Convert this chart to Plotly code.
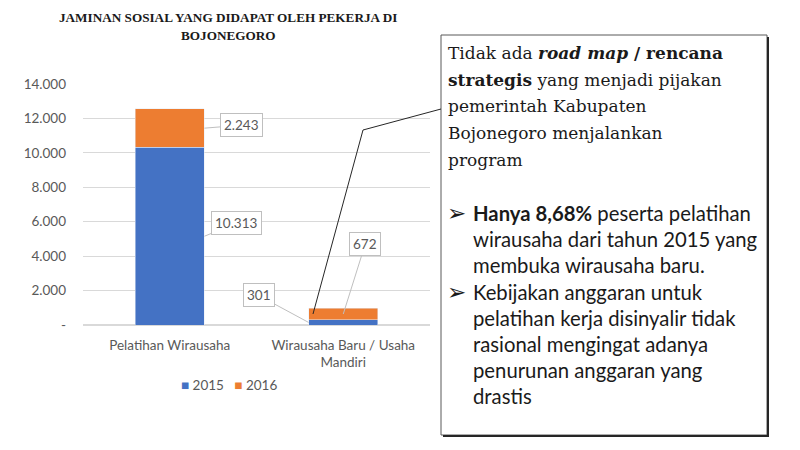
import plotly.graph_objects as go

# data
categories = ["Pelatihan Wirausaha", "Wirausaha Baru / Usaha<br>Mandiri"]
years = ["2015", "2016"]
values_2015 = [10313, 301]
values_2016 = [2243, 672]
colors = ["#4472C4", "#ED7D31"]

y_ticks = [0, 2000, 4000, 6000, 8000, 10000, 12000, 14000]
y_tick_text = ["-", "2.000", "4.000", "6.000", "8.000", "10.000", "12.000", "14.000"]

title_lines = ["JAMINAN SOSIAL YANG DIDAPAT OLEH PEKERJA DI", "BOJONEGORO"]

note_lines = [
    "Tidak ada <b><i>road map</i> / rencana</b>",
    "<b>strategis</b> yang menjadi pijakan",
    "pemerintah Kabupaten",
    "Bojonegoro menjalankan",
    "program",
]
bullet_lines = [
    ("➢", "<b>Hanya 8,68%</b> peserta pelatihan"),
    ("", "wirausaha dari tahun 2015 yang"),
    ("", "membuka wirausaha baru."),
    ("➢", "Kebijakan anggaran untuk"),
    ("", "pelatihan kerja disinyalir tidak"),
    ("", "rasional mengingat adanya"),
    ("", "penurunan anggaran yang"),
    ("", "drastis"),
]

# page has an 8px body margin, so the figure starts at (8, 8) on screen
OFF = 8
# plot area in screen pixels
L, R, T, B = 83, 430, 84, 325


def px(x):
    return (x - L) / (R - L)


def py(y):
    return (B - y) / (B - T)


def fmt(v):
    return f"{v:,}".replace(",", ".")


fig = go.Figure()
fig.add_trace(go.Bar(x=[0, 1], y=values_2015, name=years[0], marker_color=colors[0]))
fig.add_trace(go.Bar(x=[0, 1], y=values_2016, name=years[1], marker_color=colors[1]))

# data label callouts (point on the segment middle, box offset in pixels)
label_offsets = {
    (0, 0): (0.2, 32, -13),
    (0, 1): (0.2, 37, -3),
    (1, 0): (-0.2, -50, -27),
    (1, 1): (0.0, 22, -70),
}
for i in range(len(categories)):
    base = 0
    for s, vals in enumerate([values_2015, values_2016]):
        dx, ax, ay = label_offsets[(i, s)]
        fig.add_annotation(
            x=i + dx, y=base + vals[i] / 2, xref="x", yref="y",
            text=fmt(vals[i]), showarrow=True, arrowhead=0, arrowwidth=1,
            arrowcolor="#BFBFBF", ax=ax, ay=ay, axref="pixel", ayref="pixel",
            bgcolor="white", bordercolor="#BFBFBF", borderwidth=1, borderpad=3,
            font=dict(family="Lato, sans-serif", size=13.5, color="#595959"),
        )
        base += vals[i]

# legend drawn as text so it stays compact like the original
legend_text = "   ".join(
    f"<span style='color:{c}'>■</span> {y}" for c, y in zip(colors, years)
)
fig.add_annotation(
    x=px(229), y=py(385), xref="paper", yref="paper", text=legend_text,
    showarrow=False, xanchor="center", yanchor="middle",
    font=dict(family="Lato, sans-serif", size=13.5, color="#595959"),
)

# title
for k, line in enumerate(title_lines):
    fig.add_annotation(
        x=px(228), y=py(17 + k * 18), xref="paper", yref="paper",
        text="<b>" + line + "</b>", showarrow=False, xanchor="center", yanchor="middle",
        font=dict(family="Liberation Serif, serif", size=13.2, color="#1A1A1A"),
    )

# text box on the right
fig.add_shape(type="rect", xref="paper", yref="paper",
              x0=px(441), x1=px(767), y0=py(435), y1=py(35),
              line=dict(color="#595959", width=1), fillcolor="white", layer="above")
fig.add_shape(type="path", xref="paper", yref="paper",
              path=f"M {px(443)},{py(436)} L {px(768)},{py(436)} L {px(768)},{py(37)}",
              line=dict(color="#262626", width=2), layer="above")
# leader line from the text box to the small bar
fig.add_shape(type="path", xref="paper", yref="paper",
              path=f"M {px(441)},{py(109)} L {px(363)},{py(130)} L {px(313)},{py(314)}",
              line=dict(color="#262626", width=1), layer="above")

for k, line in enumerate(note_lines):
    fig.add_annotation(
        x=px(446), y=py(53 + k * 26.7), xref="paper", yref="paper",
        text=line, showarrow=False, xanchor="left", yanchor="middle",
        font=dict(family="DejaVu Serif, serif", size=17, color="#1A1A1A"),
    )
for k, (bullet, line) in enumerate(bullet_lines):
    y = py(213 + k * 26.2)
    if bullet:
        fig.add_annotation(
            x=px(445), y=y, xref="paper", yref="paper", text=bullet, showarrow=False,
            xanchor="left", yanchor="middle",
            font=dict(family="DejaVu Sans, sans-serif", size=23, color="#1A1A1A"),
        )
    fig.add_annotation(
        x=px(471), y=y, xref="paper", yref="paper", text=line, showarrow=False,
        xanchor="left", yanchor="middle",
        font=dict(family="Lato, sans-serif", size=20.3, color="#1A1A1A"),
    )

fig.update_layout(
    width=800, height=450,
    margin=dict(l=L - OFF, r=800 - R + OFF, t=T - OFF, b=450 - B + OFF, autoexpand=False),
    barmode="stack", bargap=0.6,
    plot_bgcolor="white", paper_bgcolor="white",
    font=dict(family="Lato, sans-serif", size=11, color="#595959"),
    showlegend=False,
    xaxis=dict(tickvals=[0, 1], ticktext=categories, range=[-0.5, 1.5],
               showgrid=False, showline=False, ticks="", ticklabelstandoff=10,
               tickfont=dict(size=13.5)),
    yaxis=dict(range=[0, 14000], tickvals=y_ticks, ticktext=y_tick_text,
               gridcolor="#D9D9D9", zeroline=True, zerolinecolor="#D9D9D9",
               showline=False, ticks="", ticklabelstandoff=16, tickfont=dict(size=13.5)),
)

fig.write_html("out.html")
